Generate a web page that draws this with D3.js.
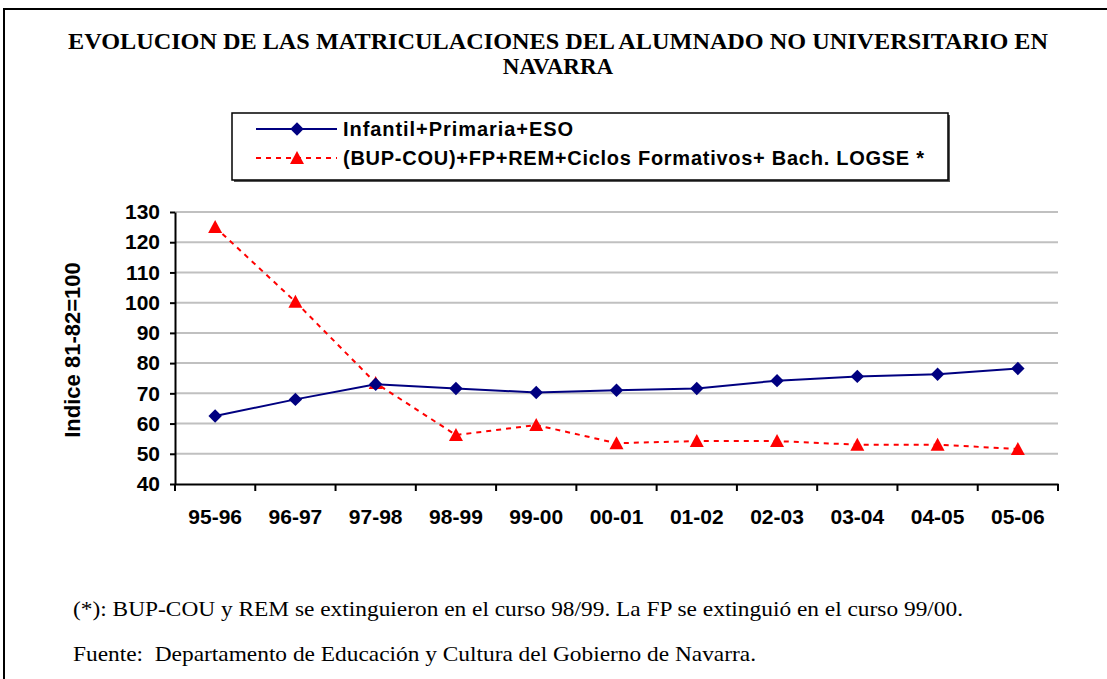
<!DOCTYPE html>
<html>
<head>
<meta charset="utf-8">
<script src="https://cdn.jsdelivr.net/npm/d3@7"></script>
<style>
    body{margin:0;background:#fff;}
    svg{display:block;}
</style>
</head>
<body>
<div id="chart"></div>
<script>
// data
let categories = ["95-96", "96-97", "97-98", "98-99", "99-00", "00-01", "01-02", "02-03", "03-04", "04-05", "05-06"];
let infantilValues = [62.5, 68, 73, 71.6, 70.3, 71, 71.6, 74.2, 75.6, 76.3, 78.2];
let bupValues = [125, 100.3, 73.4, 56.2, 59.5, 53.5, 54.2, 54.2, 53, 53, 51.6];
let yTicks = [40, 50, 60, 70, 80, 90, 100, 110, 120, 130];
let seriesNames = ["Infantil+Primaria+ESO", "(BUP-COU)+FP+REM+Ciclos Formativos+ Bach. LOGSE *"];
let titleLines = ["EVOLUCION DE LAS MATRICULACIONES DEL ALUMNADO NO UNIVERSITARIO EN", "NAVARRA"];
let notes = ["(*): BUP-COU y REM se extinguieron en el curso 98/99. La FP se extinguió en el curso 99/00.",
    "Fuente:  Departamento de Educación y Cultura del Gobierno de Navarra."];

let width = 1107, height = 679;
let margin = {left: 175, right: 49, top: 212, bottom: 195};
let innerW = width - margin.left - margin.right;
let innerH = height - margin.top - margin.bottom;
let sans = "'Liberation Sans', Arial, sans-serif";
let serif = "'Liberation Serif', 'Times New Roman', serif";

let svg = d3.select("#chart").append("svg")
    .attr("width", width)
    .attr("height", height);

// frame (runs off the right and bottom of the picture)
svg.append("path")
    .attr("d", "M4," + height + "V9H" + width)
    .attr("fill", "none").attr("stroke", "#000").attr("stroke-width", 2);

// title
let titleWidths = [980, null];
svg.append("g").selectAll("text")
    .data(titleLines)
    .enter().append("text")
    .attr("x", 558)
    .attr("y", function(d, i){ return 49 + i * 25; })
    .attr("text-anchor", "middle")
    .attr("textLength", function(d, i){ return titleWidths[i]; })
    .attr("lengthAdjust", "spacingAndGlyphs")
    .style("font-family", serif)
    .style("font-weight", "bold")
    .style("font-size", "23px")
    .text(function(d){ return d; });

let root = svg.append("g")
    .attr("transform", "translate(" + margin.left + "," + margin.top + ")");

let xScale = d3.scaleBand().domain(categories).range([0, innerW]);
let yScale = d3.scaleLinear().domain([40, 130]).range([innerH, 0]);

// gridlines
root.append("g").selectAll("line")
    .data(yTicks.filter(function(d){ return d > 40; }))
    .enter().append("line")
    .attr("x1", 0).attr("x2", innerW)
    .attr("y1", function(d){ return yScale(d); })
    .attr("y2", function(d){ return yScale(d); })
    .attr("stroke", "#c0c0c0").attr("stroke-width", 2);

// y axis
let yAxis = root.append("g")
    .call(d3.axisLeft(yScale).tickValues(yTicks).tickSize(5).tickSizeOuter(0).tickPadding(10));
yAxis.select(".domain").attr("stroke-width", 2);
yAxis.selectAll(".tick line").attr("stroke-width", 2);
yAxis.selectAll("text")
    .style("font-family", sans)
    .style("font-weight", "bold")
    .style("font-size", "21px");

// x axis with ticks between categories
let xAxis = root.append("g")
    .attr("transform", "translate(0," + innerH + ")")
    .call(d3.axisBottom(xScale).tickSize(0).tickPadding(40));
xAxis.select(".domain").attr("stroke-width", 2);
xAxis.selectAll("text")
    .attr("dy", null)
    .style("font-family", sans)
    .style("font-weight", "bold")
    .style("font-size", "21px");
root.append("g").selectAll("line")
    .data(d3.range(categories.length + 1))
    .enter().append("line")
    .attr("x1", function(d){ return d * xScale.step(); })
    .attr("x2", function(d){ return d * xScale.step(); })
    .attr("y1", innerH).attr("y2", innerH + 7)
    .attr("stroke", "#000").attr("stroke-width", 2);

// axis title
svg.append("text")
    .attr("transform", "translate(80,350) rotate(-90)")
    .attr("text-anchor", "middle")
    .style("font-family", sans)
    .style("font-weight", "bold")
    .style("font-size", "22px")
    .text("Indice 81-82=100");

let cx = function(d, i){ return xScale(categories[i]) + xScale.bandwidth() / 2; };
let line = d3.line()
    .x(cx)
    .y(function(d){ return yScale(d); });

let diamond = d3.symbol().type(d3.symbolSquare).size(90);
let triangle = "M0,-7L7,6L-7,6Z";

// red dashed series
root.append("path")
    .datum(bupValues)
    .attr("d", line)
    .attr("fill", "none")
    .attr("stroke", "#ff0000")
    .attr("stroke-width", 2)
    .attr("stroke-dasharray", "5,5");
root.append("g").selectAll("path")
    .data(bupValues)
    .enter().append("path")
    .attr("d", triangle)
    .attr("transform", function(d, i){ return "translate(" + cx(d, i) + "," + yScale(d) + ")"; })
    .attr("fill", "#ff0000");

// navy series
root.append("path")
    .datum(infantilValues)
    .attr("d", line)
    .attr("fill", "none")
    .attr("stroke", "#000080")
    .attr("stroke-width", 2);
root.append("g").selectAll("path")
    .data(infantilValues)
    .enter().append("path")
    .attr("d", diamond)
    .attr("transform", function(d, i){ return "translate(" + cx(d, i) + "," + yScale(d) + ") rotate(45)"; })
    .attr("fill", "#000080");

// legend
let legend = svg.append("g").attr("transform", "translate(232,113)");
legend.append("rect")
    .attr("x", 2).attr("y", 2)
    .attr("width", 716).attr("height", 67)
    .attr("fill", "#555");
legend.append("rect")
    .attr("width", 716).attr("height", 67)
    .attr("fill", "#fff").attr("stroke", "#000").attr("stroke-width", 1.5);

let legendWidths = [230, 581];
let entries = legend.selectAll(".entry")
    .data(seriesNames)
    .enter().append("g")
    .attr("class", "entry")
    .attr("transform", function(d, i){ return "translate(0," + (16 + i * 29) + ")"; });
entries.append("line")
    .attr("x1", 24).attr("x2", 105)
    .attr("stroke", function(d, i){ return i === 0 ? "#000080" : "#ff0000"; })
    .attr("stroke-width", 2)
    .attr("stroke-dasharray", function(d, i){ return i === 0 ? null : "5,5"; });
entries.append("path")
    .attr("d", function(d, i){ return i === 0 ? diamond() : triangle; })
    .attr("transform", function(d, i){ return "translate(65,0)" + (i === 0 ? " rotate(45)" : ""); })
    .attr("fill", function(d, i){ return i === 0 ? "#000080" : "#ff0000"; });
entries.append("text")
    .attr("x", 111)
    .attr("dy", "0.36em")
    .attr("textLength", function(d, i){ return legendWidths[i]; })
    .attr("lengthAdjust", "spacing")
    .style("font-family", sans)
    .style("font-weight", "bold")
    .style("font-size", "20px")
    .text(function(d){ return d; });

// notes
let noteWidths = [890, 683];
svg.append("g").selectAll("text")
    .data(notes)
    .enter().append("text")
    .attr("x", 73)
    .attr("y", function(d, i){ return 616 + i * 45; })
    .attr("textLength", function(d, i){ return noteWidths[i]; })
    .attr("lengthAdjust", "spacingAndGlyphs")
    .style("font-family", serif)
    .style("font-size", "21px")
    .style("white-space", "pre")
    .text(function(d){ return d; });
</script>
</body>
</html>
